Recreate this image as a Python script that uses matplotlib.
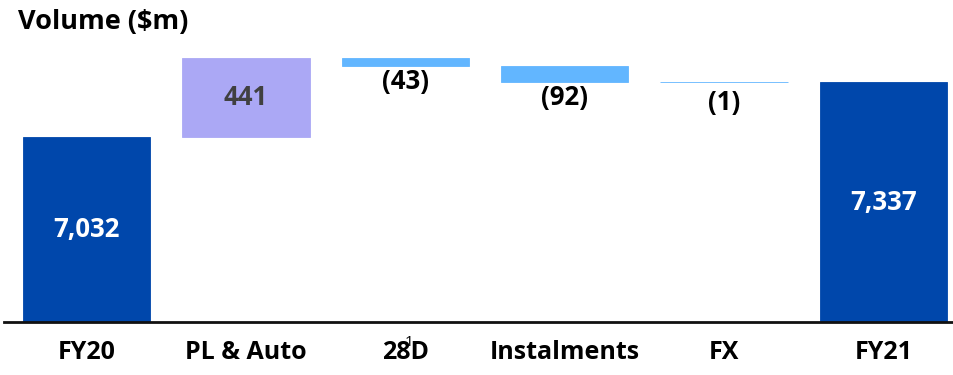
import matplotlib
matplotlib.use("Agg")
import matplotlib.pyplot as plt

categories = ["FY20", "PL & Auto", "28D", "Instalments", "FX", "FY21"]
values = [7032, 441, -43, -92, -1, 7337]
labels = ["7,032", "441", "(43)", "(92)", "(1)", "7,337"]
axis_floor = 6000

total_color = "#0047AB"
up_color = "#ABA8F5"
down_color = "#62B6FF"

plt.rcParams["font.family"] = ["Open Sans", "DejaVu Sans"]

fig = plt.figure(figsize=(9.54, 3.75), dpi=100)
ax = fig.add_axes([4 / 954, 53 / 375, 950 / 954, 264 / 375])

# build waterfall bottoms / heights
bottoms, heights, colors = [], [], []
running = 0
for i, v in enumerate(values):
    if i == 0 or i == len(values) - 1:
        bottoms.append(axis_floor)
        heights.append(v - axis_floor)
        colors.append(total_color)
        running = v
    else:
        start = running
        running = running + v
        bottoms.append(min(start, running))
        heights.append(abs(v))
        colors.append(up_color if v > 0 else down_color)

x = list(range(len(categories)))
ax.bar(x, heights, bottom=bottoms, width=0.8, color=colors,
       edgecolor=colors, linewidth=0.6)

# vertical gap (points) between a decrease bar and its label
drop_gap = {2: -2, 3: -1, 4: -5}

for i, (v, lab) in enumerate(zip(values, labels)):
    b, h = bottoms[i], heights[i]
    if i == 0 or i == len(values) - 1:
        ax.text(i, b + h / 2, lab, ha="center", va="center", color="white",
                fontsize=18.5, fontweight="bold")
    elif v > 0:
        ax.text(i, b + h / 2, lab, ha="center", va="center", color="#404040",
                fontsize=18.5, fontweight="bold")
    else:
        ax.annotate(lab, (i, b), xytext=(0, drop_gap.get(i, -2)),
                    textcoords="offset points",
                    ha="center", va="top", color="black",
                    fontsize=18.5, fontweight="bold")

ax.set_xlim(-(87 - 4) / 160, (954 - 87 + 4) / 160)
ax.set_ylim(axis_floor, axis_floor + 1473)

for s in ["top", "right", "left"]:
    ax.spines[s].set_visible(False)
ax.spines["bottom"].set_linewidth(2)
ax.spines["bottom"].set_color("#111111")
ax.set_yticks([])
ax.set_xticks(x)
ax.set_xticklabels(categories, fontsize=18, fontweight="bold")
ax.tick_params(axis="x", length=0, pad=13)

# footnote marker on 28D
ax.annotate("1", (2, axis_floor), xytext=(3, -15), textcoords="offset points",
            ha="center", va="center", fontsize=11, color="black")

fig.text(18 / 954, 1 - 22 / 375, "Volume ($m)", ha="left", va="center",
         fontsize=19.5, fontweight="bold")

fig.savefig("out.png", dpi=100)
